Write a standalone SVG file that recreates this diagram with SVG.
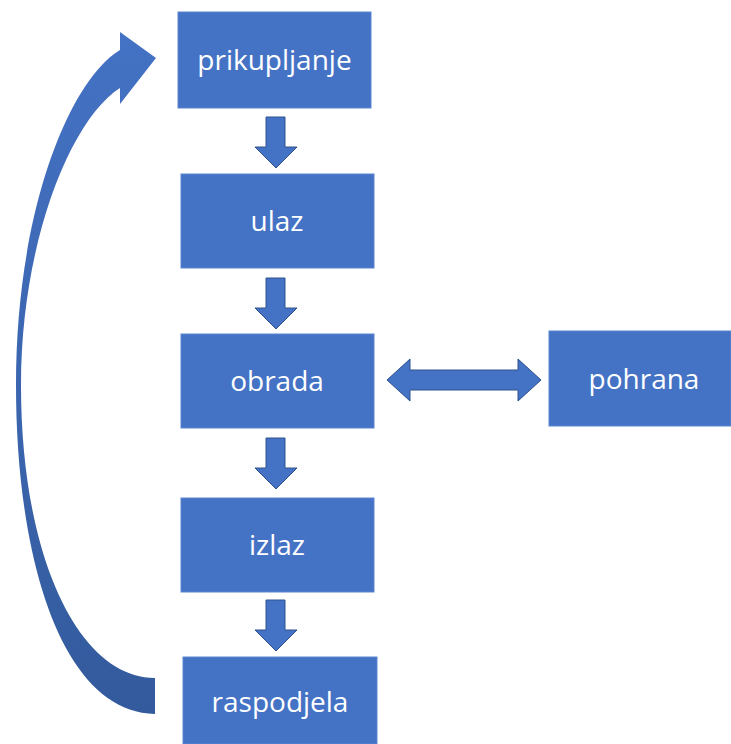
<svg xmlns="http://www.w3.org/2000/svg" width="731" height="744" viewBox="0 0 731 744">
<defs>
<style>
.box{fill:#4472c4;stroke:#5b85d0;stroke-width:1}
.lbl{fill:#ffffff;font-family:"Open Sans","Noto Sans",sans-serif;font-size:28px;text-anchor:middle;dominant-baseline:central}
.arr{fill:#4472c4;stroke:#2f528f;stroke-width:1}
</style>
<linearGradient id="cg" x1="0" y1="0" x2="0" y2="1">
<stop offset="0" stop-color="#4472c4"/>
<stop offset="1" stop-color="#335a9c"/>
</linearGradient>
<path id="down" d="M-10,0 H9 V30 H21 L0,51 L-21,30 H-10 Z"/>
</defs>
<g id="connectors">
<use href="#down" class="arr" x="276" y="117"/>
<use href="#down" class="arr" x="276" y="278"/>
<use href="#down" class="arr" x="276" y="438"/>
<use href="#down" class="arr" x="276" y="600"/>
<path class="arr" d="M387,380 L410,359 V370 H518 V359 L541,380 L518,401 V390 H410 V401 Z"/>
<path fill="url(#cg)" d="M155,714 C62,712 16,560 16,385 C16,210 70,80 120,50 L120,32 L156,58 L120,104 L120,88 C72,118 21,240 21,385 C21,560 80,678 155,678 Z"/>
</g>
<g id="prikupljanje"><rect class="box" x="178" y="12" width="193" height="96"/><text class="lbl" x="274.5" y="59">prikupljanje</text></g>
<g id="ulaz"><rect class="box" x="181" y="174" width="193" height="94"/><text class="lbl" x="277" y="220">ulaz</text></g>
<g id="obrada"><rect class="box" x="181" y="334" width="193" height="94"/><text class="lbl" x="277" y="380">obrada</text></g>
<g id="pohrana"><rect class="box" x="549" y="331" width="182" height="95"/><text class="lbl" x="644" y="378">pohrana</text></g>
<g id="izlaz"><rect class="box" x="181" y="498" width="193" height="94"/><text class="lbl" x="277" y="544">izlaz</text></g>
<g id="raspodjela"><rect class="box" x="183" y="657" width="194" height="87"/><text class="lbl" x="280" y="701">raspodjela</text></g>
</svg>
